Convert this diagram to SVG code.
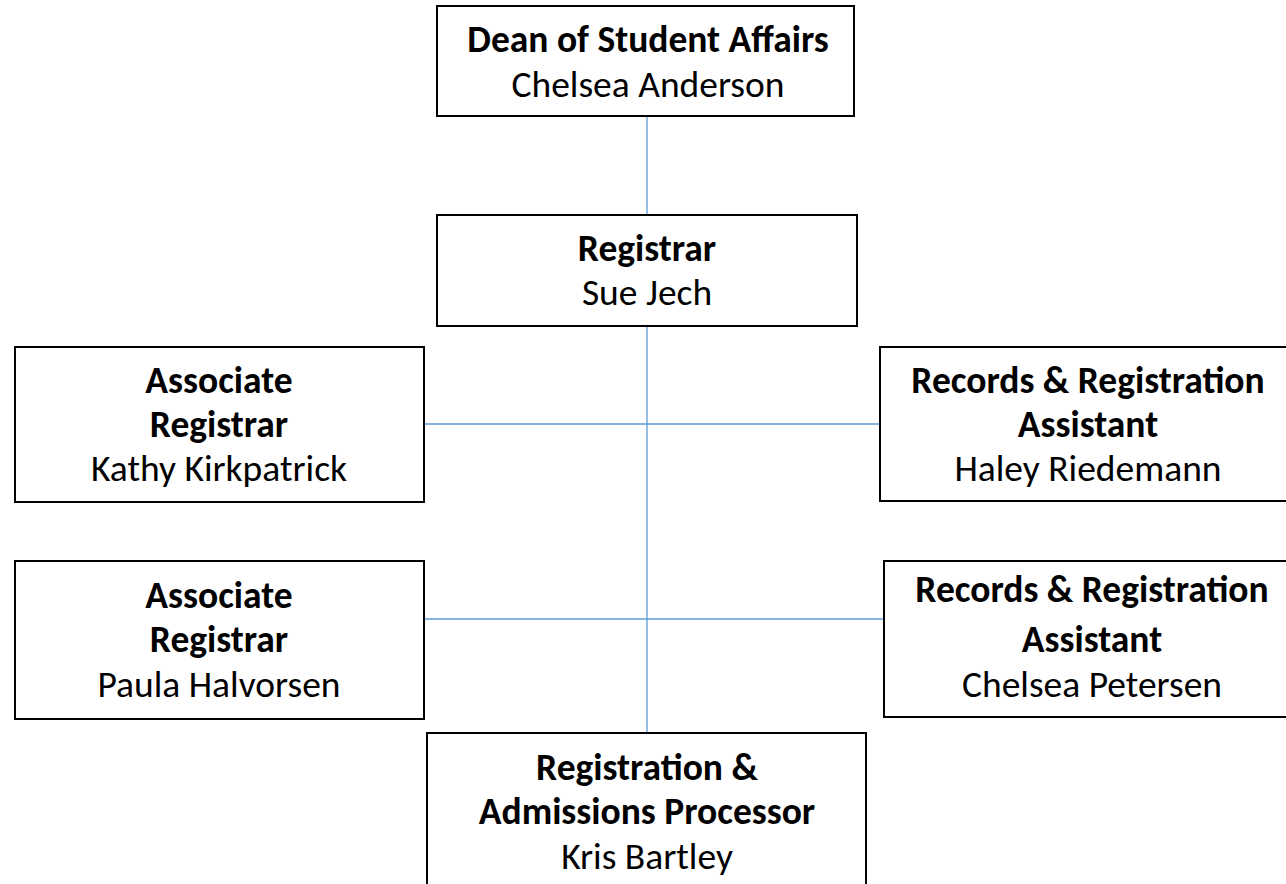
<svg xmlns="http://www.w3.org/2000/svg" width="1286" height="884" viewBox="0 0 1286 884">
<style>
.box{fill:#fff;stroke:#000;stroke-width:2}
.t{font-family:Carlito,Lato,"Liberation Sans",sans-serif;font-size:37.5px;fill:#000;text-anchor:middle}
.b{font-weight:bold}
.c{stroke:#5B9BD5;stroke-width:1.3;fill:none}
</style>
<rect width="1286" height="884" fill="#fff"/>
<g id="connectors">
<line class="c" x1="647" y1="116" x2="647" y2="215"/>
<line class="c" x1="647" y1="326" x2="647" y2="733"/>
<line class="c" x1="418" y1="424" x2="880" y2="424"/>
<line class="c" x1="424" y1="619" x2="884" y2="619"/>
</g>
<g id="dean">
<rect class="box" x="437" y="6" width="417" height="110"/>
<text class="t b" x="648" y="52">Dean of Student Affairs</text>
<text class="t" x="648" y="97">Chelsea Anderson</text>
</g>
<g id="registrar">
<rect class="box" x="437" y="215" width="420" height="111"/>
<text class="t b" x="647" y="261">Registrar</text>
<text class="t" x="647" y="305">Sue Jech</text>
</g>
<g id="assoc1">
<rect class="box" x="15" y="347" width="409" height="155"/>
<text class="t b" x="219" y="393">Associate</text>
<text class="t b" x="219" y="437">Registrar</text>
<text class="t" x="219" y="481">Kathy Kirkpatrick</text>
</g>
<g id="records1">
<rect class="box" x="880" y="347" width="416" height="154"/>
<text class="t b" x="1088" y="393">Records &amp; Registration</text>
<text class="t b" x="1088" y="437">Assistant</text>
<text class="t" x="1088" y="481">Haley Riedemann</text>
</g>
<g id="assoc2">
<rect class="box" x="15" y="561" width="409" height="158"/>
<text class="t b" x="219" y="608">Associate</text>
<text class="t b" x="219" y="652">Registrar</text>
<text class="t" x="219" y="697">Paula Halvorsen</text>
</g>
<g id="records2">
<rect class="box" x="884" y="561" width="412" height="156"/>
<text class="t b" x="1092" y="602">Records &amp; Registration</text>
<text class="t b" x="1092" y="652">Assistant</text>
<text class="t" x="1092" y="697">Chelsea Petersen</text>
</g>
<g id="processor">
<rect class="box" x="427" y="733" width="439" height="170"/>
<text class="t b" x="647" y="780">Registration &amp;</text>
<text class="t b" x="647" y="824">Admissions Processor</text>
<text class="t" x="647" y="869">Kris Bartley</text>
</g>
</svg>
